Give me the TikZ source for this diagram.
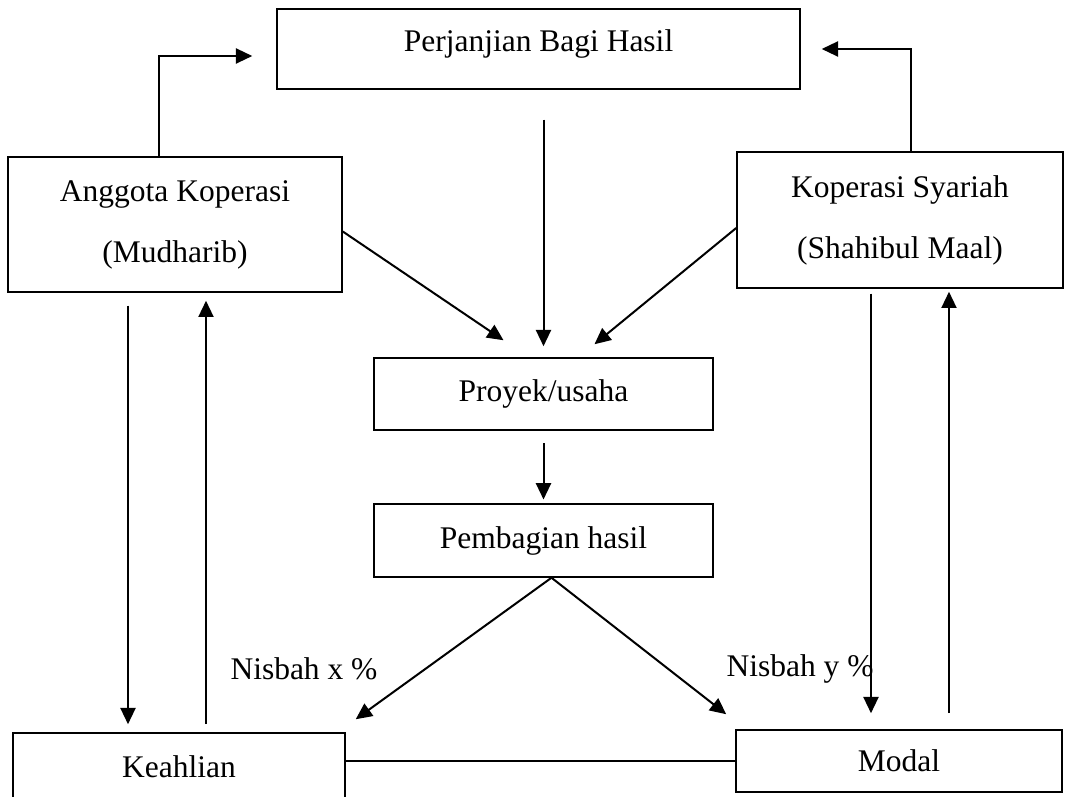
\documentclass[tikz,border=0pt]{standalone}
\usepackage{fontspec}
\setmainfont{Liberation Serif}
\usepackage{tikz}
\usetikzlibrary{positioning}
\usetikzlibrary{arrows.meta,calc}

\tikzset{
  kotak/.style={draw, line width=0.6pt, inner sep=0pt, align=center, font=\fontsize{12.6}{24.4}\selectfont},
  teks/.style={inner sep=0pt, font=\fontsize{12.6}{15}\selectfont},
  panah/.style={line width=0.8pt, -{Triangle[length=6.5pt,width=6pt]}},
  garis/.style={line width=0.8pt}
}

\begin{document}
\begin{tikzpicture}[x=0.4pt,y=-0.4pt]

\fill[white] (0,0) rectangle (1069,797);
\useasboundingbox (0,0) rectangle (1069,797);
\clip (0,0) rectangle (1069,797);

\node[kotak, minimum width=209.2pt, minimum height=32pt, text depth=7pt] (perjanjian) at (538.5,49) {Perjanjian Bagi Hasil};
\node[kotak, minimum width=133.6pt, minimum height=54pt] (anggota) at (175,224.5) {Anggota Koperasi\\(Mudharib)};
\node[kotak, minimum width=130.4pt, minimum height=54.4pt] (koperasi) at (900,220) {Koperasi Syariah\\(Shahibul Maal)};
\node[kotak, minimum width=135.6pt, minimum height=28.8pt] (proyek) at (543.5,394) {Proyek/usaha};
\node[kotak, minimum width=135.6pt, minimum height=29.2pt] (pembagian) at (543.5,540.5) {Pembagian hasil};
\node[kotak, minimum width=132.8pt, minimum height=26.8pt] (keahlian) at (179,766.5) {Keahlian};
\node[kotak, minimum width=130.4pt, minimum height=24.8pt] (modal) at (899,761) {Modal};

\node[teks] (nisbahx) at (304,669) {Nisbah x \%};
\node[teks] (nisbahy) at (800,669) {Nisbah y \%};

\draw[panah, shorten >=9.6pt] ($(anggota.north)+(-16,0)$) |- ($(perjanjian.west)+(0,7)$);
\draw[panah, shorten >=8.4pt] ($(koperasi.north)+(11,0)$) |- (perjanjian.east);
\draw[panah, shorten <=12pt, shorten >=4.4pt] (proyek.north |- perjanjian.south) -- (proyek.north);
\draw[panah] ($(anggota.east)+(0,7)$) -- ($(proyek.north)+(-40,-17)$);
\draw[panah] ($(koperasi.west)+(0,8)$) -- ($(proyek.north)+(51,-13)$);
\draw[panah, shorten <=5pt, shorten >=1.5pt] (proyek) -- (pembagian);
\draw[panah] ($(pembagian.south)+(8,0)$) -- ($(keahlian.north east)+(10,-13)$);
\draw[panah] ($(pembagian.south)+(8,0)$) -- ($(modal.north west)+(-9,-15)$);

\draw[panah, shorten <=5.2pt, shorten >=3.2pt] ([xshift=-18.8pt]anggota.south) -- ([xshift=-18.8pt]anggota.south |- keahlian.north);
\draw[panah, shorten <=3.2pt, shorten >=3.2pt] ([xshift=12.4pt]anggota.south |- keahlian.north) -- ([xshift=12.4pt]anggota.south);
\draw[panah, shorten <=2pt, shorten >=6.4pt] ([xshift=-11.6pt]koperasi.south) -- ([xshift=-11.6pt]koperasi.south |- modal.north);
\draw[panah, shorten <=6.4pt, shorten >=1.2pt] ([xshift=19.6pt]koperasi.south |- modal.north) -- ([xshift=19.6pt]koperasi.south);

\draw[garis] (keahlian.east |- modal.west) -- (modal.west);

\end{tikzpicture}
\end{document}
